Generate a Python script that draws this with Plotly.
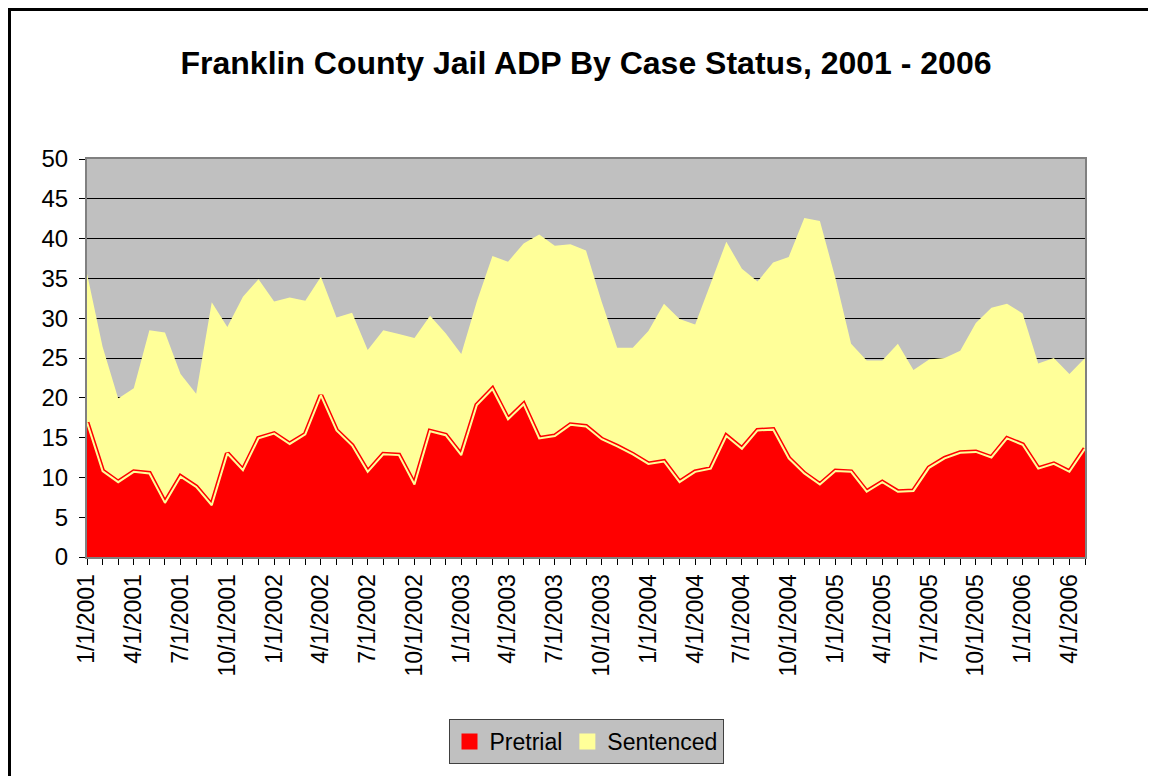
import pandas as pd
import plotly.graph_objects as go

# monthly ADP, Jan 2001 - May 2006
months = pd.date_range('2001-01-01', '2006-05-01', freq='MS')
month_labels = [f'{d.month}/1/{d.year}' for d in months]

pretrial = [
    16.9, 10.8, 9.4, 10.7, 10.5, 6.8, 10.1, 8.8, 6.5, 13.0, 10.9, 14.9,
    15.5, 14.2, 15.4, 20.3, 15.9, 14.0, 10.7, 12.9, 12.8, 9.1, 15.8, 15.3,
    12.8, 19.1, 21.1, 17.3, 19.2, 14.9, 15.2, 16.6, 16.4, 14.8, 13.9, 12.9,
    11.7, 12.0, 9.4, 10.7, 11.1, 15.2, 13.6, 15.9, 16.0, 12.4, 10.5, 9.1,
    10.8, 10.7, 8.2, 9.4, 8.2, 8.3, 11.2, 12.4, 13.1, 13.2, 12.5, 14.9,
    14.1, 11.1, 11.7, 10.7, 13.6,
]
sentenced = [
    18.7, 15.6, 10.5, 10.5, 18.0, 21.4, 12.9, 11.7, 25.5, 15.9, 21.8, 20.0,
    16.6, 18.4, 16.8, 14.9, 14.2, 16.7, 15.3, 15.6, 15.2, 18.4, 14.5, 12.8,
    12.7, 13.0, 16.7, 19.8, 20.2, 25.6, 23.9, 22.7, 22.1, 17.3, 12.4, 13.4,
    16.7, 19.8, 20.5, 18.5, 23.3, 24.4, 22.6, 18.7, 21.0, 25.3, 32.1, 33.1,
    24.2, 16.1, 16.5, 15.3, 18.6, 15.2, 13.6, 12.6, 12.8, 16.2, 18.8, 16.9,
    16.5, 13.2, 13.3, 12.3, 11.4,
]

FONT = 'Arial, Liberation Sans, sans-serif'
RED = '#FF0000'
YELLOW = '#FFFF99'

# plot area in figure pixels (page has an 8px body margin)
L, R, T, B = 79, 1077, 151, 549
W, H = 1156, 776
PW, PH = R - L, B - T

x = list(range(len(months)))
tick_text = [lbl if i % 3 == 0 else '' for i, lbl in enumerate(month_labels)]

fig = go.Figure()
fig.add_trace(go.Scatter(
    x=x, y=pretrial, name='Pretrial', mode='lines', stackgroup='adp',
    fillcolor=RED, line=dict(color=RED, width=1), showlegend=False,
))
fig.add_trace(go.Scatter(
    x=x, y=sentenced, name='Sentenced', mode='lines', stackgroup='adp',
    fillcolor=YELLOW, line=dict(color=YELLOW, width=0), showlegend=False,
))
# double border on the pretrial edge (red outline, pale yellow core)
fig.add_trace(go.Scatter(
    x=x, y=pretrial, mode='lines', showlegend=False, hoverinfo='skip',
    line=dict(color=RED, width=5),
))
fig.add_trace(go.Scatter(
    x=x, y=pretrial, mode='lines', showlegend=False, hoverinfo='skip',
    line=dict(color=YELLOW, width=2),
))
# square legend swatches
for name, color in [('Pretrial', RED), ('Sentenced', YELLOW)]:
    fig.add_trace(go.Scatter(
        x=[None], y=[None], name=name, mode='markers',
        marker=dict(symbol='square', size=20, color=color,
                    line=dict(color='#C0C0C0', width=0)),
    ))

fig.update_layout(
    width=W,
    height=H,
    paper_bgcolor='white',
    plot_bgcolor='#C0C0C0',
    font=dict(family=FONT, size=23, color='black'),
    title=dict(
        text='<b>Franklin County Jail ADP By Case Status, 2001 - 2006</b>',
        font=dict(family=FONT, size=32, color='black'),
        x=0.5, xanchor='center', y=1 - 55 / H, yanchor='middle',
    ),
    margin=dict(l=L, r=W - R, t=T, b=H - B),
    showlegend=True,
    legend=dict(
        orientation='h', x=(578 - L) / PW, xanchor='center',
        y=(B - 711) / PH, yanchor='top', traceorder='normal',
        bgcolor='#C0C0C0', bordercolor='#404040', borderwidth=1,
        font=dict(family=FONT, size=23), itemwidth=30,
    ),
    xaxis=dict(
        range=[0, len(x) - 1], tickvals=x, ticktext=tick_text, tickangle=-90,
        ticks='outside', ticklen=6, tickcolor='black', showgrid=False,
        showline=True, linecolor='#808080', linewidth=2, mirror=True,
        tickfont=dict(family=FONT, size=23), zeroline=False,
    ),
    yaxis=dict(
        range=[0, 50], dtick=5, ticks='outside', ticklen=6, tickcolor='black',
        showgrid=True, gridcolor='black', gridwidth=1,
        showline=True, linecolor='#808080', linewidth=2, mirror=True,
        tickfont=dict(family=FONT, size=24), zeroline=False,
        ticklabelstandoff=6,
    ),
    shapes=[dict(
        type='rect', xref='paper', yref='paper',
        x0=(1 - L) / PW, x1=(1180 - L) / PW,
        y0=(B - 800) / PH, y1=(B - 1) / PH,
        line=dict(color='black', width=4), layer='above',
    )],
)

fig.write_html("out.html")
